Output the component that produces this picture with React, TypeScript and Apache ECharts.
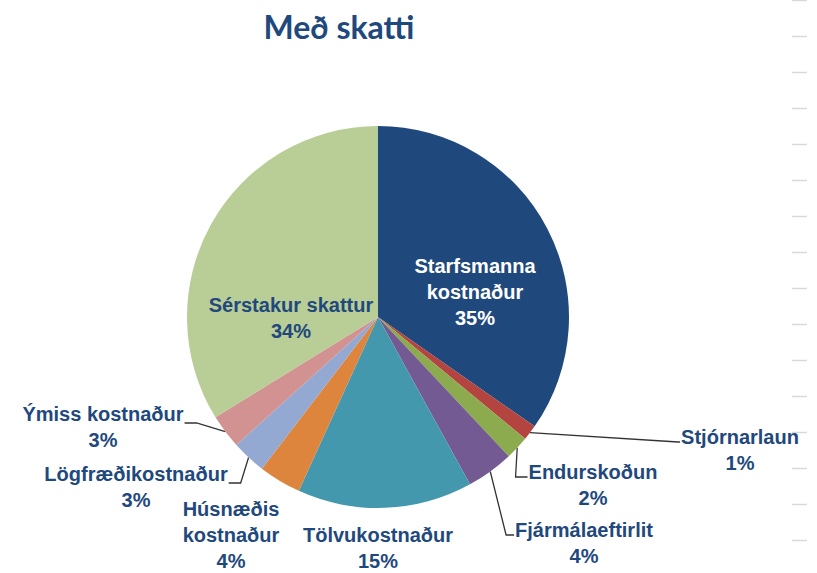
import React, { useEffect, useRef } from "react";
import * as echarts from "echarts";

const TITLE = "Með skatti";
const categories = [
  "Starfsmanna\nkostnaður",
  "Stjórnarlaun",
  "Endurskoðun",
  "Fjármálaeftirlit",
  "Tölvukostnaður",
  "Húsnæðis\nkostnaður",
  "Lögfræðikostnaður",
  "Ýmiss kostnaður",
  "Sérstakur skattur",
];
const values = [34.7, 1.3, 2.0, 4.0, 14.8, 3.6, 2.9, 2.9, 33.8];
const colors = [
  "#1F497D",
  "#B3443F",
  "#8CAA4E",
  "#735A92",
  "#4398AE",
  "#DD853C",
  "#94A9D1",
  "#D29291",
  "#B9CD96",
];

// label layout (anchor centre of each label block) and leader-line kind
const LABEL_ANCHORS: [number, number][] = [
  [475, 292],
  [740, 450],
  [593, 485],
  [584, 543],
  [378, 548],
  [231, 535],
  [136, 487],
  [103, 427],
  [291, 318],
];
// kind: 0 none/inside, 1 right-side label, -1 left-side label ; bend length
const LINE_KIND = [0, 1, 1, 1, 0, 0, -1, -1, 0];
const LINE_BEND = [0, 2, 12, 8, 0, 0, 12, 12, 0];
const INSIDE = [true, false, false, false, false, false, false, false, true];
const INSIDE_COLOR = ["#FFFFFF", "", "", "", "", "", "", "", "#1F497D"];

const TEXT_COLOR = "#1F497D";

export default function App() {
  const ref = useRef<HTMLDivElement>(null);
  useEffect(() => {
    if (!ref.current) return;
    const chart = echarts.init(ref.current, undefined, { renderer: "svg" });

    const data = categories.map((name, i) => {
      const item: any = {
        name,
        value: values[i],
        itemStyle: { color: colors[i] },
      };
      if (INSIDE[i]) {
        item.label = { position: "inside", color: INSIDE_COLOR[i] };
        item.labelLine = { show: false };
      } else if (LINE_KIND[i] === 0) {
        item.labelLine = { show: false };
      }
      return item;
    });

    const ticks: any[] = [];
    for (let k = 0; k < 16; k++) {
      const y = k * 36 + 0.5;
      ticks.push({
        type: "line",
        silent: true,
        shape: { x1: 792, y1: y, x2: 807, y2: y },
        style: { stroke: "#D9D9D9", lineWidth: 1.5 },
      });
    }

    chart.setOption({
      animation: false,
      backgroundColor: "#FFFFFF",
      graphic: [
        {
          type: "text",
          x: 339,
          y: 26,
          style: {
            text: TITLE,
            fontFamily: "Lato, 'Open Sans', sans-serif",
            fontWeight: "bold",
            fontSize: 32,
            fill: TEXT_COLOR,
            textAlign: "center",
            textVerticalAlign: "middle",
          },
        },
        ...ticks,
      ],
      series: [
        {
          type: "pie",
          center: [378, 317],
          radius: 191,
          startAngle: 90,
          clockwise: true,
          avoidLabelOverlap: false,
          data,
          label: {
            show: true,
            position: "outside",
            fontFamily: "'Liberation Sans', Arial, sans-serif",
            fontWeight: "bold",
            fontSize: 20,
            lineHeight: 26,
            color: TEXT_COLOR,
            align: "center",
            formatter: (p: any) => `${p.name}\n${Math.round(p.percent)}%`,
          },
          labelLine: {
            show: true,
            length: 10,
            length2: 10,
            lineStyle: { color: "#333333", width: 1.3 },
          },
          emphasis: { disabled: true },
          labelLayout: (params: any) => {
            const i = params.dataIndex;
            const [x, y] = LABEL_ANCHORS[i];
            const res: any = { x, y, align: "center", verticalAlign: "middle" };
            const pts = params.labelLinePoints;
            const w = params.labelRect ? params.labelRect.width : 0;
            const h = params.labelRect ? params.labelRect.height : 52;
            const top = y - h / 2;
            if (pts && LINE_KIND[i] === 1) {
              const ex = x - w / 2 - 1;
              const ey = top + 18;
              res.labelLinePoints = [pts[0], [ex - LINE_BEND[i], ey], [ex, ey]];
            } else if (pts && LINE_KIND[i] === -1) {
              const ex = x + w / 2 + 1;
              const ey = top + 22;
              res.labelLinePoints = [pts[0], [ex + LINE_BEND[i], ey], [ex, ey]];
            }
            return res;
          },
        },
      ],
    });
    return () => chart.dispose();
  }, []);
  return (
    <div
      ref={ref}
      style={{ position: "fixed", left: 0, top: 0, width: 817, height: 573 }}
    />
  );
}
